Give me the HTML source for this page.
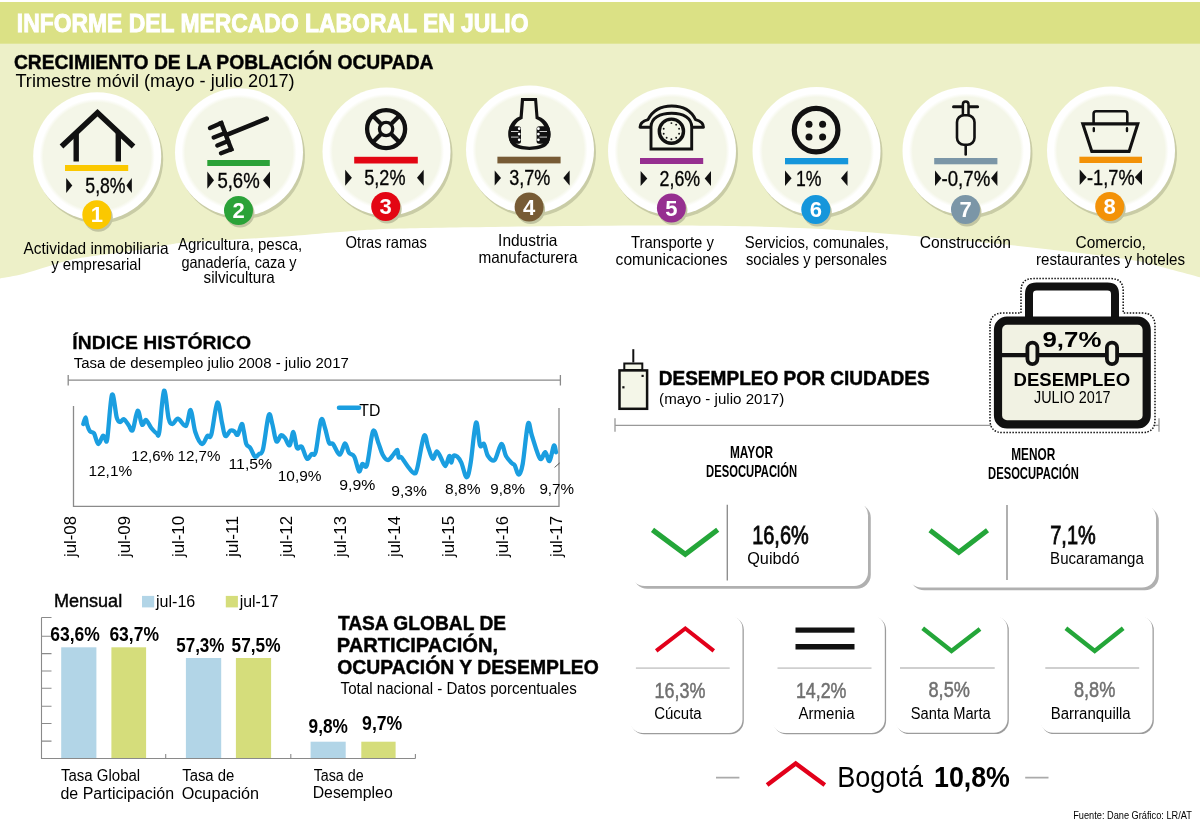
<!DOCTYPE html>
<html><head><meta charset="utf-8"><title>Informe del mercado laboral en julio</title>
<style>html,body{margin:0;padding:0;background:#fff;} svg{display:block;}</style>
</head><body>
<svg width="1200" height="831" viewBox="0 0 1200 831" font-family='"Liberation Sans", Arial, sans-serif'>
<defs>
<radialGradient id="cg" cx="50%" cy="50%" r="50%">
 <stop offset="0" stop-color="#f4f6e8"/>
 <stop offset="0.84" stop-color="#f4f6e8"/>
 <stop offset="0.90" stop-color="#ffffff"/>
 <stop offset="1" stop-color="#ffffff"/>
</radialGradient>
<filter id="blur05" x="-10%" y="-10%" width="120%" height="120%"><feGaussianBlur stdDeviation="0.5"/></filter>
<filter id="blur03" x="-10%" y="-10%" width="120%" height="120%"><feGaussianBlur stdDeviation="0.35"/></filter>
<filter id="blur1" x="-10%" y="-10%" width="120%" height="120%"><feGaussianBlur stdDeviation="1"/></filter>
<filter id="cardsh" x="-10%" y="-10%" width="130%" height="130%">
 <feGaussianBlur in="SourceAlpha" stdDeviation="0.8"/>
 <feOffset dx="1.6" dy="1.8" result="o"/>
 <feComponentTransfer><feFuncA type="linear" slope="0.55"/></feComponentTransfer>
 <feMerge><feMergeNode/><feMergeNode in="SourceGraphic"/></feMerge>
</filter>
</defs>
<rect width="1200" height="831" fill="#ffffff"/>
<path d="M0,43 L1200,43 L1200,277.3 C1195.0,275.9 1180.0,271.8 1170.0,269.2 C1160.0,266.6 1151.7,263.8 1140.0,261.5 C1128.3,259.2 1113.3,257.3 1100.0,255.5 C1086.7,253.7 1074.7,252.5 1060.0,250.8 C1045.3,249.1 1028.7,247.1 1012.0,245.3 C995.3,243.6 975.3,241.8 960.0,240.3 C944.7,238.8 933.3,237.6 920.0,236.4 C906.7,235.2 900.0,234.6 880.0,233.2 C860.0,231.8 830.0,229.2 800.0,228.0 C770.0,226.8 741.7,226.0 700.0,225.7 C658.3,225.4 600.0,225.8 550.0,226.3 C500.0,226.8 435.0,227.6 400.0,228.5 C365.0,229.4 360.0,230.6 340.0,232.0 C320.0,233.4 305.0,235.1 280.0,236.8 C255.0,238.5 208.3,241.0 190.0,242.3 C171.7,243.6 178.3,243.2 170.0,244.5 C161.7,245.8 148.8,248.4 140.0,249.8 C131.2,251.2 124.8,252.0 117.0,253.0 C109.2,254.0 100.8,254.8 93.0,256.0 C85.2,257.2 77.7,258.2 70.0,260.0 C62.3,261.8 54.8,264.5 47.0,266.8 C39.2,269.1 30.8,272.1 23.0,274.0 C15.2,275.9 3.8,277.7 0.0,278.4 L0,43 Z" fill="#edf0c8"/>
<rect x="0" y="2" width="1200" height="41.7" fill="#dbe185"/>
<text x="16.8" y="31.8" font-size="25" font-weight="bold" fill="#ffffff" textLength="511.7" lengthAdjust="spacingAndGlyphs" stroke="#ffffff" stroke-width="0.9">INFORME DEL MERCADO LABORAL EN JULIO</text>
<text x="13.9" y="69.2" font-size="20" font-weight="bold" textLength="419.6" lengthAdjust="spacingAndGlyphs" stroke="#111" stroke-width="0.5">CRECIMIENTO DE LA POBLACIÓN OCUPADA</text>
<text x="15.4" y="87.0" font-size="18" textLength="279.2" lengthAdjust="spacingAndGlyphs">Trimestre móvil (mayo - julio 2017)</text>
<circle cx="99.2" cy="159.3" r="64" fill="#c9cca6" filter="url(#blur05)"/>
<circle cx="97.2" cy="156.3" r="64" fill="url(#cg)"/>
<rect x="65" y="165" width="63.2" height="6.0" fill="#fbc800"/>
<text x="85.3" y="192.7" font-size="22" textLength="40.3" lengthAdjust="spacingAndGlyphs" stroke="#111" stroke-width="0.35">5,8%</text>
<path d="M66.2,178 L72.3,185.5 L66.2,193 Z" fill="#111"/>
<path d="M131.8,178 L126.4,185.5 L131.8,193 Z" fill="#111"/>
<circle cx="98.3" cy="217.3" r="14.5" fill="#c2c5a2" filter="url(#blur05)"/>
<circle cx="96.8" cy="214.8" r="14.5" fill="#fbc800"/>
<text x="96.8" y="222.4" font-size="22" font-weight="bold" fill="#ffffff" text-anchor="middle">1</text>
<circle cx="241" cy="155.3" r="64" fill="#c9cca6" filter="url(#blur05)"/>
<circle cx="239" cy="152.3" r="64" fill="url(#cg)"/>
<rect x="207.3" y="160" width="62.5" height="6.0" fill="#2ba238"/>
<text x="217.4" y="188.0" font-size="22" textLength="42.3" lengthAdjust="spacingAndGlyphs" stroke="#111" stroke-width="0.35">5,6%</text>
<path d="M207.3,171.6 L214,180.2 L207.3,188.8 Z" fill="#111"/>
<path d="M270,171.6 L263,180.2 L270,188.8 Z" fill="#111"/>
<circle cx="240.0" cy="213.0" r="14.5" fill="#c2c5a2" filter="url(#blur05)"/>
<circle cx="238.5" cy="210.5" r="14.5" fill="#2ba238"/>
<text x="238.5" y="218.1" font-size="22" font-weight="bold" fill="#ffffff" text-anchor="middle">2</text>
<circle cx="388.5" cy="154.5" r="64" fill="#c9cca6" filter="url(#blur05)"/>
<circle cx="386.5" cy="151.5" r="64" fill="url(#cg)"/>
<rect x="354.2" y="156.8" width="63.6" height="6.7" fill="#e30613"/>
<text x="364.3" y="184.8" font-size="22" textLength="41.2" lengthAdjust="spacingAndGlyphs" stroke="#111" stroke-width="0.35">5,2%</text>
<path d="M345.2,169.8 L351.9,177.75 L345.2,185.7 Z" fill="#111"/>
<path d="M423.7,169.8 L417,177.75 L423.7,185.7 Z" fill="#111"/>
<circle cx="387.2" cy="209.0" r="14.5" fill="#c2c5a2" filter="url(#blur05)"/>
<circle cx="385.7" cy="206.5" r="14.5" fill="#e30613"/>
<text x="385.7" y="214.1" font-size="22" font-weight="bold" fill="#ffffff" text-anchor="middle">3</text>
<circle cx="532" cy="152.5" r="64" fill="#c9cca6" filter="url(#blur05)"/>
<circle cx="530" cy="149.5" r="64" fill="url(#cg)"/>
<rect x="497.4" y="156.7" width="63.2" height="6.7" fill="#775b35"/>
<text x="509.3" y="184.7" font-size="22" textLength="41.1" lengthAdjust="spacingAndGlyphs" stroke="#111" stroke-width="0.35">3,7%</text>
<path d="M494.7,170.5 L501,178.0 L494.7,185.5 Z" fill="#111"/>
<path d="M569.6,170.5 L563.3,178.0 L569.6,185.5 Z" fill="#111"/>
<circle cx="530.6" cy="209.4" r="14.5" fill="#c2c5a2" filter="url(#blur05)"/>
<circle cx="529.1" cy="206.9" r="14.5" fill="#775b35"/>
<text x="529.1" y="214.5" font-size="22" font-weight="bold" fill="#ffffff" text-anchor="middle">4</text>
<circle cx="674" cy="154" r="64" fill="#c9cca6" filter="url(#blur05)"/>
<circle cx="672" cy="151" r="64" fill="url(#cg)"/>
<rect x="640" y="158" width="63.2" height="6.0" fill="#962f90"/>
<text x="659.6" y="185.6" font-size="22" textLength="40.6" lengthAdjust="spacingAndGlyphs" stroke="#111" stroke-width="0.35">2,6%</text>
<path d="M640.6,171 L647.3,178.5 L640.6,186 Z" fill="#111"/>
<path d="M711,171 L704.7,178.5 L711,186 Z" fill="#111"/>
<circle cx="672.9" cy="210.6" r="14.5" fill="#c2c5a2" filter="url(#blur05)"/>
<circle cx="671.4" cy="208.1" r="14.5" fill="#962f90"/>
<text x="671.4" y="215.7" font-size="22" font-weight="bold" fill="#ffffff" text-anchor="middle">5</text>
<circle cx="818.5" cy="154" r="64" fill="#c9cca6" filter="url(#blur05)"/>
<circle cx="816.5" cy="151" r="64" fill="url(#cg)"/>
<rect x="785" y="158" width="63.2" height="6.3" fill="#1596db"/>
<text x="796.0" y="185.6" font-size="22" textLength="25.5" lengthAdjust="spacingAndGlyphs" stroke="#111" stroke-width="0.35">1%</text>
<path d="M785,170.5 L791.6,178.25 L785,186 Z" fill="#111"/>
<path d="M847.5,170.5 L841,178.25 L847.5,186 Z" fill="#111"/>
<circle cx="817.3" cy="212.1" r="14.5" fill="#c2c5a2" filter="url(#blur05)"/>
<circle cx="815.8" cy="209.6" r="14.5" fill="#1596db"/>
<text x="815.8" y="217.2" font-size="22" font-weight="bold" fill="#ffffff" text-anchor="middle">6</text>
<circle cx="968.5" cy="154" r="64" fill="#c9cca6" filter="url(#blur05)"/>
<circle cx="966.5" cy="151" r="64" fill="url(#cg)"/>
<rect x="934.2" y="158" width="63.2" height="6.3" fill="#7b96a7"/>
<text x="941.5" y="185.6" font-size="22" textLength="48.8" lengthAdjust="spacingAndGlyphs" stroke="#111" stroke-width="0.35">-0,7%</text>
<path d="M935,170.5 L941.4,178.25 L935,186 Z" fill="#111"/>
<path d="M997.4,170.5 L991,178.25 L997.4,186 Z" fill="#111"/>
<circle cx="967.0" cy="212.1" r="14.5" fill="#c2c5a2" filter="url(#blur05)"/>
<circle cx="965.5" cy="209.6" r="14.5" fill="#7b96a7"/>
<text x="965.5" y="217.2" font-size="22" font-weight="bold" fill="#ffffff" text-anchor="middle">7</text>
<circle cx="1113" cy="153.5" r="64" fill="#c9cca6" filter="url(#blur05)"/>
<circle cx="1111" cy="150.5" r="64" fill="url(#cg)"/>
<rect x="1079.4" y="156.7" width="62.6" height="6.3" fill="#f39208"/>
<text x="1087.0" y="184.7" font-size="22" textLength="47.6" lengthAdjust="spacingAndGlyphs" stroke="#111" stroke-width="0.35">-1,7%</text>
<path d="M1079.7,169.5 L1086.6,177.25 L1079.7,185 Z" fill="#111"/>
<path d="M1142,169.5 L1134.8,177.25 L1142,185 Z" fill="#111"/>
<circle cx="1111.2" cy="209.0" r="14.5" fill="#c2c5a2" filter="url(#blur05)"/>
<circle cx="1109.7" cy="206.5" r="14.5" fill="#f39208"/>
<text x="1109.7" y="214.1" font-size="22" font-weight="bold" fill="#ffffff" text-anchor="middle">8</text>
<path d="M61.5,146.5 L97.5,112.8 L133.5,146.5" fill="none" stroke="#111" stroke-width="5.4"/>
<path d="M76.2,132 V161.4 M118.3,132 V161.4" fill="none" stroke="#111" stroke-width="5.4"/>
<path d="M227.3,134.7 L266.7,118.7" fill="none" stroke="#111" stroke-width="4.6" stroke-linecap="round"/>
<path d="M221.3,123 L231.3,149.3" fill="none" stroke="#111" stroke-width="4.4" stroke-linecap="square"/>
<path d="M221.3,123 L210,128 M225,133 L213.7,137.5 M228.2,141 L217.3,145.5 M231.3,149.3 L221,153.3" fill="none" stroke="#111" stroke-width="4.4" stroke-linecap="round"/>
<circle cx="386.1" cy="129.05" r="19" fill="none" stroke="#111" stroke-width="4.3"/>
<circle cx="386.1" cy="129.05" r="6.65" fill="none" stroke="#111" stroke-width="3.3"/>
<path d="M391.40,134.35 L398.83,141.78 M380.80,134.35 L373.37,141.78 M380.80,123.75 L373.37,116.32 M391.40,123.75 L398.83,116.32" fill="none" stroke="#111" stroke-width="4.2"/>
<path d="M521,98 L537,98 L538.5,116.4 C552,121 553,138 547,145 C541,151.5 518,151.5 512,145 C506,138 507,121 519.6,116.4 Z" fill="#111"/>
<path d="M524,101 L534.2,101 L535.6,118.7 C547,123 548.5,137 544,142.5 C539,148 520,148 515,142.5 C510.5,137 512,123 522.6,118.7 Z" fill="#f4f6e8"/>
<clipPath id="fl"><path d="M521,98 L537,98 L538.5,116.4 C552,121 553,138 547,145 C541,151.5 518,151.5 512,145 C506,138 507,121 519.6,116.4 Z"/></clipPath>
<g clip-path="url(#fl)"><rect x="500" y="126.3" width="21" height="17.5" rx="2.5" fill="#111"/><rect x="536.6" y="126.3" width="21" height="17.5" rx="2.5" fill="#111"/></g>
<circle cx="519.2" cy="128.7" r="1.35" fill="#fff"/><circle cx="538.4" cy="128.7" r="1.35" fill="#fff"/>
<circle cx="519.2" cy="134.1" r="1.35" fill="#fff"/><circle cx="538.4" cy="134.1" r="1.35" fill="#fff"/>
<circle cx="519.2" cy="139.8" r="1.35" fill="#fff"/><circle cx="538.4" cy="139.8" r="1.35" fill="#fff"/>
<path d="M511,131.5 H518.5 M511,137.1 H518.5 M539.5,131.5 H547 M539.5,137.1 H547" stroke="#fff" stroke-width="0.8"/>
<path d="M640,127.3 C640,123 643,121 648,119.6 C654,108 664,106 671.7,106 C680,106 690,108 695.5,119.6 C700.5,121 703.5,123 703.5,127.3 Z" fill="#f4f6e8" stroke="#111" stroke-width="2.9" stroke-linejoin="round"/>
<path d="M651,149 L651,127 C651,118 660,113.2 671.7,113.2 C683.4,113.2 691.7,118 691.7,127 L691.7,149 Z" fill="#f4f6e8" stroke="#111" stroke-width="2.9"/>
<circle cx="671.4" cy="131.2" r="12.1" fill="#f4f6e8" stroke="#111" stroke-width="3.4"/>
<circle cx="671.40" cy="123.10" r="0.95" fill="#111"/>
<circle cx="676.16" cy="124.65" r="0.95" fill="#111"/>
<circle cx="679.10" cy="128.70" r="0.95" fill="#111"/>
<circle cx="679.10" cy="133.70" r="0.95" fill="#111"/>
<circle cx="676.16" cy="137.75" r="0.95" fill="#111"/>
<circle cx="671.40" cy="139.30" r="0.95" fill="#111"/>
<circle cx="666.64" cy="137.75" r="0.95" fill="#111"/>
<circle cx="663.70" cy="133.70" r="0.95" fill="#111"/>
<circle cx="663.70" cy="128.70" r="0.95" fill="#111"/>
<circle cx="816.1" cy="130.1" r="21.8" fill="none" stroke="#111" stroke-width="5.2"/>
<circle cx="809" cy="124.2" r="3.5" fill="#111"/>
<circle cx="822.6" cy="124.2" r="3.5" fill="#111"/>
<circle cx="809" cy="136.9" r="3.5" fill="#111"/>
<circle cx="822.6" cy="136.9" r="3.5" fill="#111"/>
<path d="M953.5,106.7 H977.6" fill="none" stroke="#111" stroke-width="3" stroke-linecap="round"/>
<path d="M962.9,115 V104.2 A2.8,2.8 0 0 1 968.5,104.2 V115" fill="#f4f6e8" stroke="#111" stroke-width="2.5"/>
<rect x="957" y="115.2" width="17.5" height="29.6" rx="7" fill="#f4f6e8" stroke="#111" stroke-width="2.6"/>
<path d="M965.7,145.5 V154.5" fill="none" stroke="#111" stroke-width="2.6" stroke-linecap="round"/>
<rect x="1093.6" y="111.2" width="33.7" height="14" rx="2.5" fill="#f4f6e8" stroke="#111" stroke-width="2.6"/>
<path d="M1082.8,123.9 H1137.8 L1129.1,151.4 H1091.8 Z" fill="#f4f6e8" stroke="#111" stroke-width="3.1" stroke-linejoin="miter"/>
<path d="M1093.8,128.3 V131 M1127,128.3 V131" fill="none" stroke="#111" stroke-width="2.4" stroke-linecap="round"/>
<text x="23.5" y="253.5" font-size="16.5" textLength="145.0" lengthAdjust="spacingAndGlyphs">Actividad inmobiliaria</text>
<text x="51.2" y="270.0" font-size="16.5" textLength="89.8" lengthAdjust="spacingAndGlyphs">y empresarial</text>
<text x="178.0" y="249.5" font-size="16.5" textLength="124.2" lengthAdjust="spacingAndGlyphs">Agricultura, pesca,</text>
<text x="181.4" y="267.5" font-size="16.5" textLength="115.1" lengthAdjust="spacingAndGlyphs">ganadería, caza y</text>
<text x="203.6" y="282.5" font-size="16.5" textLength="71.1" lengthAdjust="spacingAndGlyphs">silvicultura</text>
<text x="345.6" y="248.0" font-size="16.5" textLength="81.2" lengthAdjust="spacingAndGlyphs">Otras ramas</text>
<text x="498.1" y="245.8" font-size="16.5" textLength="59.4" lengthAdjust="spacingAndGlyphs">Industria</text>
<text x="478.5" y="262.5" font-size="16.5" textLength="99.0" lengthAdjust="spacingAndGlyphs">manufacturera</text>
<text x="631.0" y="248.0" font-size="16.5" textLength="82.9" lengthAdjust="spacingAndGlyphs">Transporte y</text>
<text x="615.6" y="265.0" font-size="16.5" textLength="111.9" lengthAdjust="spacingAndGlyphs">comunicaciones</text>
<text x="744.8" y="248.0" font-size="16.5" textLength="144.0" lengthAdjust="spacingAndGlyphs">Servicios, comunales,</text>
<text x="745.9" y="265.0" font-size="16.5" textLength="140.9" lengthAdjust="spacingAndGlyphs">sociales y personales</text>
<text x="919.7" y="248.0" font-size="16.5" textLength="91.3" lengthAdjust="spacingAndGlyphs">Construcción</text>
<text x="1075.5" y="248.0" font-size="16.5" textLength="70.4" lengthAdjust="spacingAndGlyphs">Comercio,</text>
<text x="1036.0" y="265.0" font-size="16.5" textLength="149.1" lengthAdjust="spacingAndGlyphs">restaurantes y hoteles</text>
<text x="72.3" y="349.2" font-size="19" font-weight="bold" textLength="178.7" lengthAdjust="spacingAndGlyphs" stroke="#111" stroke-width="0.3">ÍNDICE HISTÓRICO</text>
<text x="73.7" y="367.8" font-size="15.3" textLength="275.1" lengthAdjust="spacingAndGlyphs">Tasa de desempleo julio 2008 - julio 2017</text>
<path d="M68.2,380.2 H560.4 M68.2,375 V385.5 M560.4,375 V385.5" stroke="#8a8a8a" stroke-width="1.3" fill="none"/>
<path d="M73.5,406 V506.3 H559 V408" stroke="#8a8a8a" stroke-width="1.3" fill="none"/>
<path d="M83.3,424.0 C83.7,422.9 85.0,417.2 85.6,417.3 C86.2,417.4 86.4,422.4 87.1,424.7 C87.8,427.0 88.8,429.9 90.0,431.3 C91.2,432.7 92.6,431.2 94.0,433.3 C95.4,435.4 96.8,443.6 98.3,444.0 C99.8,444.4 101.6,437.1 102.7,436.0 C103.8,434.9 103.9,436.9 104.7,437.3 C105.5,437.8 106.1,445.8 107.3,438.7 C108.5,431.6 110.4,398.3 112.0,394.7 C113.6,391.1 115.4,412.8 116.7,417.3 C118.0,421.9 118.8,421.7 120.0,422.0 C121.2,422.3 122.5,418.8 124.0,419.3 C125.5,419.9 127.2,423.5 128.7,425.3 C130.1,427.1 131.2,432.4 132.7,430.0 C134.2,427.6 136.1,411.6 137.7,410.7 C139.2,409.8 140.6,423.1 142.0,424.7 C143.4,426.2 144.4,419.4 146.0,420.0 C147.6,420.6 149.5,425.8 151.3,428.0 C153.1,430.2 155.4,432.6 156.7,433.3 C158.0,434.0 158.1,439.1 159.3,432.0 C160.5,424.9 162.4,392.9 164.0,390.7 C165.6,388.5 167.2,413.1 168.7,418.7 C170.1,424.2 171.1,424.0 172.7,424.0 C174.2,424.0 175.8,418.4 178.0,418.7 C180.2,419.0 183.9,427.4 186.0,426.0 C188.1,424.6 189.1,409.0 190.7,410.0 C192.2,411.0 193.4,426.3 195.3,432.0 C197.2,437.7 200.0,443.3 202.0,444.0 C204.0,444.7 205.8,437.6 207.3,436.0 C208.9,434.4 209.6,440.2 211.3,434.7 C213.0,429.1 215.5,404.7 217.3,402.7 C219.1,400.7 220.7,417.1 222.0,422.7 C223.3,428.2 223.9,434.7 225.3,436.0 C226.7,437.3 228.8,431.5 230.3,430.7 C231.8,429.9 233.1,430.6 234.3,431.3 C235.5,432.0 236.5,435.9 237.7,434.7 C238.9,433.5 240.7,424.7 241.7,424.0 C242.7,423.3 242.9,427.4 243.7,430.7 C244.5,434.0 245.2,441.1 246.3,444.0 C247.4,446.9 248.9,445.9 250.3,448.0 C251.8,450.1 253.6,455.7 255.0,456.7 C256.4,457.7 257.7,455.2 259.0,454.0 C260.3,452.8 261.4,455.8 263.0,449.3 C264.6,442.9 267.1,419.5 268.7,415.3 C270.2,411.1 271.0,419.7 272.3,424.0 C273.6,428.3 274.9,439.4 276.3,441.3 C277.8,443.2 279.6,435.9 281.0,435.3 C282.4,434.8 283.6,436.3 285.0,438.0 C286.4,439.7 288.3,446.3 289.7,445.3 C291.1,444.3 292.2,431.6 293.4,432.0 C294.6,432.4 295.6,445.6 297.0,448.0 C298.4,450.4 300.0,444.9 301.7,446.7 C303.4,448.5 305.3,457.5 307.0,458.7 C308.7,459.9 310.2,455.1 311.7,454.0 C313.1,452.9 314.1,457.7 315.7,452.0 C317.2,446.3 319.4,424.0 321.0,420.0 C322.6,416.0 323.7,424.2 325.0,428.0 C326.3,431.8 327.7,440.0 329.0,442.7 C330.3,445.4 331.2,442.0 333.0,444.0 C334.8,446.0 337.7,454.8 339.7,454.7 C341.7,454.6 343.4,443.6 345.0,443.3 C346.6,443.0 347.4,450.5 349.0,452.7 C350.6,454.9 352.6,453.6 354.3,456.7 C356.0,459.8 357.7,470.1 359.0,471.3 C360.3,472.5 361.0,465.1 362.3,464.0 C363.6,462.9 365.2,470.1 367.0,464.7 C368.8,459.2 371.1,435.0 373.0,431.3 C374.9,427.6 376.7,438.8 378.3,442.7 C379.9,446.6 381.1,451.8 382.7,454.7 C384.3,457.6 386.2,460.0 388.0,460.0 C389.8,460.0 391.8,456.4 393.3,454.7 C394.9,453.0 396.4,449.6 397.3,450.0 C398.2,450.4 398.0,456.1 398.7,457.3 C399.4,458.5 399.8,455.7 401.3,457.3 C402.9,458.9 405.9,464.0 408.0,466.7 C410.1,469.4 412.4,473.1 414.0,473.3 C415.6,473.5 415.6,474.2 417.3,468.0 C419.0,461.8 422.2,439.6 424.0,436.0 C425.8,432.4 426.6,442.9 428.0,446.7 C429.4,450.5 431.2,457.9 432.7,458.7 C434.1,459.5 435.4,451.5 436.7,451.3 C438.0,451.1 439.3,454.9 440.7,457.3 C442.1,459.8 443.9,466.2 445.3,466.0 C446.7,465.8 448.3,456.6 449.3,456.0 C450.3,455.4 450.6,462.7 451.3,462.7 C452.0,462.7 452.3,457.0 453.3,456.0 C454.3,455.0 456.0,455.6 457.3,456.7 C458.6,457.8 459.7,459.3 461.3,462.7 C462.9,466.1 465.1,477.3 466.7,477.3 C468.3,477.3 469.1,471.8 470.7,462.7 C472.2,453.6 474.4,425.6 476.0,422.7 C477.6,419.8 478.7,441.8 480.0,445.3 C481.3,448.9 482.7,442.2 484.0,444.0 C485.3,445.8 486.2,453.3 488.0,456.0 C489.8,458.7 492.5,462.0 494.7,460.0 C496.9,458.0 499.4,444.7 501.3,444.0 C503.2,443.3 504.2,452.8 506.0,456.0 C507.8,459.2 510.6,461.8 512.0,463.3 C513.5,464.9 513.6,463.4 514.7,465.3 C515.8,467.2 517.4,474.9 518.7,474.7 C520.0,474.5 521.2,472.4 522.7,464.0 C524.2,455.6 526.5,428.7 528.0,424.0 C529.5,419.3 530.0,430.2 532.0,436.0 C534.0,441.8 537.8,456.0 540.0,458.7 C542.2,461.4 543.6,451.8 545.2,452.2 C546.8,452.6 548.0,462.0 549.5,460.9 C551.0,459.8 552.8,447.1 553.9,445.7 C555.0,444.2 555.6,451.1 556.0,452.2" fill="none" stroke="#1a9ee0" stroke-width="4.3" stroke-linejoin="round" stroke-linecap="round"/>
<path d="M554.6,467.4 L559.6,463" stroke="#333" stroke-width="0.8"/>
<path d="M339,407.7 H359" stroke="#1a9ee0" stroke-width="4.5" stroke-linecap="round"/>
<text x="359.3" y="415.7" font-size="17" textLength="21.1" lengthAdjust="spacingAndGlyphs">TD</text>
<text x="88.5" y="476.3" font-size="15.3" textLength="43.6" lengthAdjust="spacingAndGlyphs">12,1%</text>
<text x="131.3" y="460.7" font-size="15.3" textLength="42.6" lengthAdjust="spacingAndGlyphs">12,6%</text>
<text x="177.5" y="460.7" font-size="15.3" textLength="43.0" lengthAdjust="spacingAndGlyphs">12,7%</text>
<text x="228.5" y="469.3" font-size="15.3" textLength="43.7" lengthAdjust="spacingAndGlyphs">11,5%</text>
<text x="277.8" y="481.0" font-size="15.3" textLength="43.7" lengthAdjust="spacingAndGlyphs">10,9%</text>
<text x="339.3" y="489.7" font-size="15.3" textLength="36.0" lengthAdjust="spacingAndGlyphs">9,9%</text>
<text x="391.3" y="495.8" font-size="15.3" textLength="35.6" lengthAdjust="spacingAndGlyphs">9,3%</text>
<text x="445.1" y="494.2" font-size="15.3" textLength="35.4" lengthAdjust="spacingAndGlyphs">8,8%</text>
<text x="490.3" y="494.2" font-size="15.3" textLength="34.6" lengthAdjust="spacingAndGlyphs">9,8%</text>
<text x="539.4" y="494.0" font-size="15.3" textLength="34.6" lengthAdjust="spacingAndGlyphs">9,7%</text>
<text transform="translate(76.1,557) rotate(-90)" font-size="16" textLength="41" lengthAdjust="spacingAndGlyphs">jul-08</text>
<text transform="translate(130.1,557) rotate(-90)" font-size="16" textLength="41" lengthAdjust="spacingAndGlyphs">jul-09</text>
<text transform="translate(184.1,557) rotate(-90)" font-size="16" textLength="41" lengthAdjust="spacingAndGlyphs">jul-10</text>
<text transform="translate(238.1,557) rotate(-90)" font-size="16" textLength="41" lengthAdjust="spacingAndGlyphs">jul-11</text>
<text transform="translate(292.1,557) rotate(-90)" font-size="16" textLength="41" lengthAdjust="spacingAndGlyphs">jul-12</text>
<text transform="translate(346.1,557) rotate(-90)" font-size="16" textLength="41" lengthAdjust="spacingAndGlyphs">jul-13</text>
<text transform="translate(400.1,557) rotate(-90)" font-size="16" textLength="41" lengthAdjust="spacingAndGlyphs">jul-14</text>
<text transform="translate(454.1,557) rotate(-90)" font-size="16" textLength="41" lengthAdjust="spacingAndGlyphs">jul-15</text>
<text transform="translate(508.1,557) rotate(-90)" font-size="16" textLength="41" lengthAdjust="spacingAndGlyphs">jul-16</text>
<text transform="translate(562.1,557) rotate(-90)" font-size="16" textLength="41" lengthAdjust="spacingAndGlyphs">jul-17</text>
<text x="53.9" y="606.6" font-size="17.5" textLength="68.3" lengthAdjust="spacingAndGlyphs" stroke="#111" stroke-width="0.45">Mensual</text>
<rect x="142" y="595.9" width="12.2" height="11.5" fill="#b2d5e7"/>
<rect x="225.8" y="595.9" width="12.1" height="11.5" fill="#d5dd7b"/>
<text x="156.0" y="606.6" font-size="16" textLength="39.3" lengthAdjust="spacingAndGlyphs">jul-16</text>
<text x="239.7" y="606.6" font-size="16" textLength="38.8" lengthAdjust="spacingAndGlyphs">jul-17</text>
<path d="M41.5,617.5 V758.5 H415.4 M41.5,617.5 H51.5 M41.5,636.3 H51.5 M41.5,653.6 H51.5 M41.5,671 H51.5 M41.5,688.3 H51.5 M41.5,706.2 H51.5 M41.5,723.5 H51.5 M41.5,741.1 H51.5 M165.7,758.5 V754 M290.8,758.5 V754 M415.4,758.5 V754" stroke="#8a8a8a" stroke-width="1.1" fill="none"/>
<rect x="61.2" y="647.3" width="35.2" height="110.7" fill="#b2d5e7"/>
<rect x="111.4" y="647.3" width="34.7" height="110.7" fill="#d5dd7b"/>
<rect x="185.9" y="658" width="35.3" height="100.0" fill="#b2d5e7"/>
<rect x="235.9" y="658" width="35.2" height="100.0" fill="#d5dd7b"/>
<rect x="310.6" y="741.7" width="35.1" height="16.3" fill="#b2d5e7"/>
<rect x="361.3" y="741.7" width="34.3" height="16.3" fill="#d5dd7b"/>
<text x="50.2" y="640.6" font-size="21" font-weight="bold" textLength="49.6" lengthAdjust="spacingAndGlyphs">63,6%</text>
<text x="109.4" y="640.6" font-size="21" font-weight="bold" textLength="49.6" lengthAdjust="spacingAndGlyphs">63,7%</text>
<text x="176.2" y="651.6" font-size="21" font-weight="bold" textLength="48.3" lengthAdjust="spacingAndGlyphs">57,3%</text>
<text x="231.6" y="651.6" font-size="21" font-weight="bold" textLength="48.9" lengthAdjust="spacingAndGlyphs">57,5%</text>
<text x="308.6" y="733.2" font-size="21" font-weight="bold" textLength="39.3" lengthAdjust="spacingAndGlyphs">9,8%</text>
<text x="362.1" y="730.3" font-size="21" font-weight="bold" textLength="40.2" lengthAdjust="spacingAndGlyphs">9,7%</text>
<text x="60.9" y="781.3" font-size="16" textLength="79.3" lengthAdjust="spacingAndGlyphs">Tasa Global</text>
<text x="60.5" y="798.6" font-size="16" textLength="113.5" lengthAdjust="spacingAndGlyphs">de Participación</text>
<text x="182.2" y="781.3" font-size="16" textLength="52.1" lengthAdjust="spacingAndGlyphs">Tasa de</text>
<text x="181.7" y="798.6" font-size="16" textLength="77.4" lengthAdjust="spacingAndGlyphs">Ocupación</text>
<text x="313.7" y="780.5" font-size="16" textLength="49.9" lengthAdjust="spacingAndGlyphs">Tasa de</text>
<text x="312.7" y="797.8" font-size="16" textLength="80.0" lengthAdjust="spacingAndGlyphs">Desempleo</text>
<text x="337.9" y="630.3" font-size="20.5" font-weight="bold" textLength="168.2" lengthAdjust="spacingAndGlyphs" stroke="#111" stroke-width="0.5">TASA GLOBAL DE</text>
<text x="336.8" y="652.4" font-size="20.5" font-weight="bold" textLength="161.3" lengthAdjust="spacingAndGlyphs" stroke="#111" stroke-width="0.5">PARTICIPACIÓN,</text>
<text x="337.3" y="674.2" font-size="20.5" font-weight="bold" textLength="261.5" lengthAdjust="spacingAndGlyphs" stroke="#111" stroke-width="0.5">OCUPACIÓN Y DESEMPLEO</text>
<text x="340.6" y="693.5" font-size="16" textLength="236.1" lengthAdjust="spacingAndGlyphs">Total nacional - Datos porcentuales</text>
<path d="M633.3,349.2 V362.5" stroke="#111" stroke-width="2"/>
<rect x="624.3" y="363.5" width="18" height="6.5" fill="#f4f6e8" stroke="#111" stroke-width="2"/>
<rect x="619.5" y="370.4" width="27.6" height="38.4" fill="#f4f6e8" stroke="#111" stroke-width="2.5"/>
<rect x="641.5" y="374.8" width="2.2" height="2.2" fill="#111"/><rect x="622.3" y="386.2" width="2.2" height="2.2" fill="#111"/>
<text x="658.7" y="385.0" font-size="19.5" font-weight="bold" textLength="271.0" lengthAdjust="spacingAndGlyphs" stroke="#111" stroke-width="0.5">DESEMPLEO POR CIUDADES</text>
<text x="659.1" y="404.2" font-size="15" textLength="125.2" lengthAdjust="spacingAndGlyphs">(mayo - julio 2017)</text>
<path d="M615,425.3 H1159 M615,418.3 V431.7 M1159,418.3 V431.7" stroke="#999" stroke-width="1.3" fill="none"/>
<path d="M990,326 Q990,313 1003,313 L1021,313 L1021,291 Q1021,278.6 1033,278.6 L1111,278.6 Q1123.2,278.6 1123.2,291 L1123.2,313 L1142,313 Q1155,313 1155,326 L1155,420 Q1155,432.6 1142,432.6 L1003,432.6 Q990,432.6 990,420 Z" fill="#fff" stroke="#111" stroke-width="1.5" stroke-dasharray="1.5,1.5"/>
<path d="M1029,318 V294 Q1029,286.6 1036.5,286.6 L1107.5,286.6 Q1115,286.6 1115,294 V318" fill="none" stroke="#111" stroke-width="8"/>
<rect x="998" y="320.7" width="148.7" height="103.7" rx="9" fill="#f1f2e3" stroke="#111" stroke-width="8.2"/>
<path d="M1000,355.1 H1145" stroke="#111" stroke-width="4.4"/>
<rect x="1027.4" y="342.6" width="10" height="21.5" rx="5" fill="#f1f2e3" stroke="#111" stroke-width="3.8"/>
<rect x="1106.9" y="342.6" width="10.2" height="21.5" rx="5" fill="#f1f2e3" stroke="#111" stroke-width="3.8"/>
<text x="1042.5" y="346.7" font-size="22" font-weight="bold" textLength="58.9" lengthAdjust="spacingAndGlyphs">9,7%</text>
<text x="1013.6" y="385.6" font-size="18" font-weight="bold" textLength="116.5" lengthAdjust="spacingAndGlyphs">DESEMPLEO</text>
<text x="1034.0" y="403.4" font-size="16" textLength="76.6" lengthAdjust="spacingAndGlyphs">JULIO 2017</text>
<text x="730.0" y="457.5" font-size="16.3" font-weight="bold" textLength="43.0" lengthAdjust="spacingAndGlyphs">MAYOR</text>
<text x="706.1" y="476.7" font-size="16.3" font-weight="bold" textLength="90.9" lengthAdjust="spacingAndGlyphs">DESOCUPACIÓN</text>
<text x="1011.2" y="459.5" font-size="16.3" font-weight="bold" textLength="44.0" lengthAdjust="spacingAndGlyphs">MENOR</text>
<text x="988.1" y="479.3" font-size="16.3" font-weight="bold" textLength="90.7" lengthAdjust="spacingAndGlyphs">DESOCUPACIÓN</text>
<rect x="633.3" y="504.0" width="237.5" height="84.8" rx="14" fill="#b0b0b0" filter="url(#blur03)"/>
<rect x="630.5" y="501.2" width="237.5" height="84.8" rx="14" fill="#fff"/>
<rect x="910.3" y="506.6" width="248.5" height="83.7" rx="14" fill="#b0b0b0" filter="url(#blur03)"/>
<rect x="907.5" y="503.8" width="248.5" height="83.7" rx="14" fill="#fff"/>
<path d="M727.3,504.7 V580.5 M1007,505 V580" stroke="#8f8f8f" stroke-width="1.4"/>
<path d="M652.5,529.8 L685.3,554.3 L717.7,529.8" fill="none" stroke="#24a639" stroke-width="5.2"/>
<path d="M930,530.3 L958.8,552.3 L987.5,530.3" fill="none" stroke="#24a639" stroke-width="5"/>
<text x="752.2" y="543.7" font-size="25.5" textLength="56.5" lengthAdjust="spacingAndGlyphs" stroke="#111" stroke-width="0.9">16,6%</text>
<text x="747.2" y="563.7" font-size="16.8" textLength="52.5" lengthAdjust="spacingAndGlyphs">Quibdó</text>
<text x="1050.3" y="543.7" font-size="25.5" textLength="45.4" lengthAdjust="spacingAndGlyphs" stroke="#111" stroke-width="0.9">7,1%</text>
<text x="1050.1" y="563.8" font-size="16.8" textLength="93.7" lengthAdjust="spacingAndGlyphs">Bucaramanga</text>
<rect x="630.5999999999999" y="616.5" width="113.2" height="117.8" rx="13.5" fill="#9c9c9c" filter="url(#blur03)"/>
<rect x="629.3" y="615.2" width="113.2" height="117.8" rx="13.5" fill="#fff"/>
<rect x="773.0" y="616.5" width="113.1" height="117.8" rx="13.5" fill="#9c9c9c" filter="url(#blur03)"/>
<rect x="771.7" y="615.2" width="113.1" height="117.8" rx="13.5" fill="#fff"/>
<rect x="896.0" y="616.8" width="112.8" height="117.3" rx="13.5" fill="#9c9c9c" filter="url(#blur03)"/>
<rect x="894.7" y="615.5" width="112.8" height="117.3" rx="13.5" fill="#fff"/>
<rect x="1040.8" y="616.8" width="113.0" height="117.3" rx="13.5" fill="#9c9c9c" filter="url(#blur03)"/>
<rect x="1039.5" y="615.5" width="113.0" height="117.3" rx="13.5" fill="#fff"/>
<path d="M656.2,650.9 L685.3,628.5 L713.8,650.9" fill="none" stroke="#e2001a" stroke-width="4"/>
<rect x="795.5" y="627.5" width="59" height="5.2" fill="#111"/><rect x="795.5" y="644" width="59" height="5.5" fill="#111"/>
<path d="M922.7,628.3 L951.5,651 L980,629" fill="none" stroke="#24a639" stroke-width="4.4"/>
<path d="M1065.9,628.3 L1094.7,651 L1123.2,628.3" fill="none" stroke="#24a639" stroke-width="4.4"/>
<path d="M635.9,668.1 H729.7 M777.5,668.1 H871.5 M900,668 H994.7 M1045.3,668 H1139.2" stroke="#cfcfcf" stroke-width="1.8"/>
<text x="654.6" y="697.8" font-size="22.8" fill="#707070" textLength="50.8" lengthAdjust="spacingAndGlyphs" stroke="#707070" stroke-width="0.5">16,3%</text>
<text x="795.9" y="697.5" font-size="22.8" fill="#707070" textLength="50.6" lengthAdjust="spacingAndGlyphs" stroke="#707070" stroke-width="0.5">14,2%</text>
<text x="928.5" y="697.3" font-size="22.8" fill="#707070" textLength="41.4" lengthAdjust="spacingAndGlyphs" stroke="#707070" stroke-width="0.5">8,5%</text>
<text x="1073.9" y="697.3" font-size="22.8" fill="#707070" textLength="41.4" lengthAdjust="spacingAndGlyphs" stroke="#707070" stroke-width="0.5">8,8%</text>
<text x="654.2" y="719.0" font-size="16" textLength="47.5" lengthAdjust="spacingAndGlyphs">Cúcuta</text>
<text x="798.5" y="719.0" font-size="16" textLength="56.0" lengthAdjust="spacingAndGlyphs">Armenia</text>
<text x="910.8" y="718.7" font-size="16" textLength="79.9" lengthAdjust="spacingAndGlyphs">Santa Marta</text>
<text x="1050.8" y="718.7" font-size="16" textLength="79.9" lengthAdjust="spacingAndGlyphs">Barranquilla</text>
<path d="M716,777.7 H739.4 M1025.2,777.7 H1048.5" stroke="#aaa" stroke-width="1.8"/>
<path d="M767.1,785 L795.7,763.5 L824.8,785" fill="none" stroke="#e2001a" stroke-width="4.4"/>
<text x="837.2" y="786.5" font-size="30" textLength="85.9" lengthAdjust="spacingAndGlyphs">Bogotá</text>
<text x="934.0" y="786.5" font-size="30" font-weight="bold" textLength="75.9" lengthAdjust="spacingAndGlyphs">10,8%</text>
<text x="1073.2" y="819.3" font-size="11.6" textLength="118.7" lengthAdjust="spacingAndGlyphs">Fuente: Dane Gráfico: LR/AT</text>
</svg>
</body></html>
